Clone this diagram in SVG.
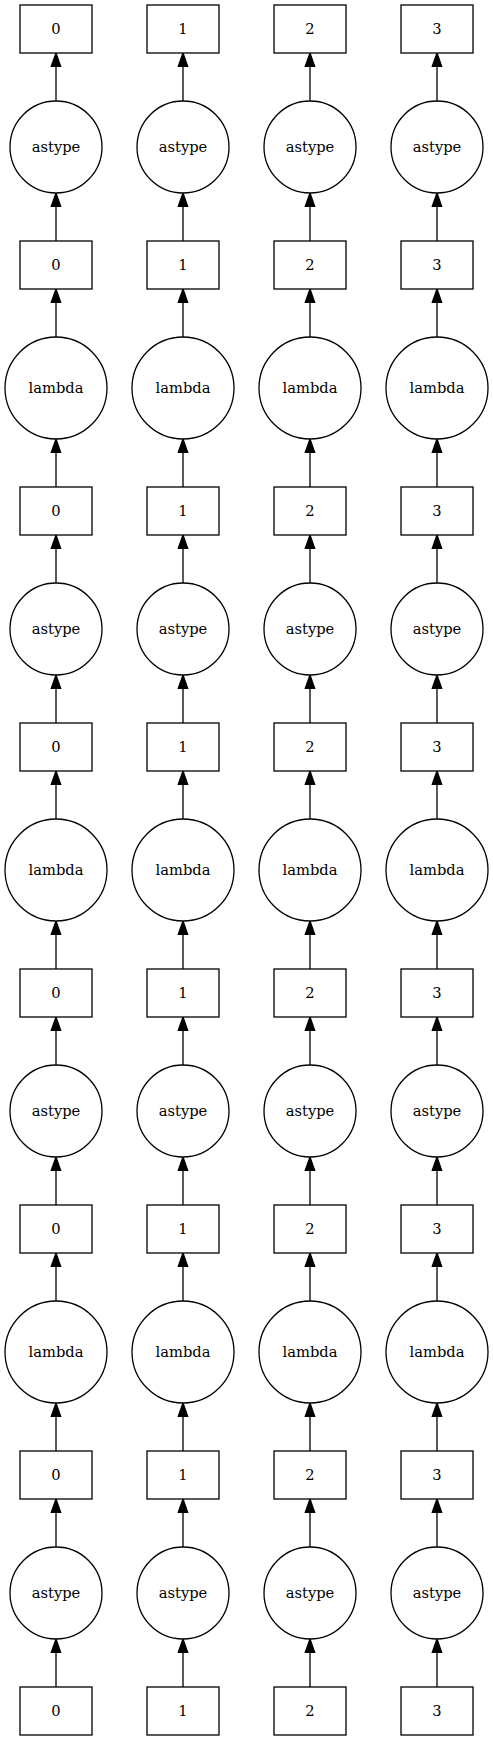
<svg xmlns="http://www.w3.org/2000/svg" width="493" height="1741" viewBox="0 0 493 1741">
<style>
.n rect,.n circle{fill:#fff;stroke:#000;stroke-width:1.3}
.n text{font-family:"DejaVu Serif","Liberation Serif",serif;font-size:14.7px;text-anchor:middle;fill:#000}
.e line{stroke:#000;stroke-width:1.3;marker-end:url(#ah)}
</style>
<defs>
<marker id="ah" markerUnits="userSpaceOnUse" markerWidth="14" markerHeight="10" refX="0" refY="4.67" orient="auto" overflow="visible">
<path d="M0,0 L13.3,4.67 L0,9.33 z" fill="#000" stroke="#000" stroke-width="1.3"/>
</marker>
</defs>
<rect width="493" height="1741" fill="#fff"/>
<g id="edges" class="e">
<line x1="56" y1="101" x2="56" y2="66.3"/><line x1="56" y1="241" x2="56" y2="206.3"/><line x1="56" y1="337" x2="56" y2="302.3"/><line x1="56" y1="487" x2="56" y2="452.3"/><line x1="56" y1="583" x2="56" y2="548.3"/><line x1="56" y1="723" x2="56" y2="688.3"/><line x1="56" y1="819" x2="56" y2="784.3"/><line x1="56" y1="969" x2="56" y2="934.3"/><line x1="56" y1="1065" x2="56" y2="1030.3"/><line x1="56" y1="1205" x2="56" y2="1170.3"/><line x1="56" y1="1301" x2="56" y2="1266.3"/><line x1="56" y1="1451" x2="56" y2="1416.3"/><line x1="56" y1="1547" x2="56" y2="1512.3"/><line x1="56" y1="1687" x2="56" y2="1652.3"/>
<line x1="183" y1="101" x2="183" y2="66.3"/><line x1="183" y1="241" x2="183" y2="206.3"/><line x1="183" y1="337" x2="183" y2="302.3"/><line x1="183" y1="487" x2="183" y2="452.3"/><line x1="183" y1="583" x2="183" y2="548.3"/><line x1="183" y1="723" x2="183" y2="688.3"/><line x1="183" y1="819" x2="183" y2="784.3"/><line x1="183" y1="969" x2="183" y2="934.3"/><line x1="183" y1="1065" x2="183" y2="1030.3"/><line x1="183" y1="1205" x2="183" y2="1170.3"/><line x1="183" y1="1301" x2="183" y2="1266.3"/><line x1="183" y1="1451" x2="183" y2="1416.3"/><line x1="183" y1="1547" x2="183" y2="1512.3"/><line x1="183" y1="1687" x2="183" y2="1652.3"/>
<line x1="310" y1="101" x2="310" y2="66.3"/><line x1="310" y1="241" x2="310" y2="206.3"/><line x1="310" y1="337" x2="310" y2="302.3"/><line x1="310" y1="487" x2="310" y2="452.3"/><line x1="310" y1="583" x2="310" y2="548.3"/><line x1="310" y1="723" x2="310" y2="688.3"/><line x1="310" y1="819" x2="310" y2="784.3"/><line x1="310" y1="969" x2="310" y2="934.3"/><line x1="310" y1="1065" x2="310" y2="1030.3"/><line x1="310" y1="1205" x2="310" y2="1170.3"/><line x1="310" y1="1301" x2="310" y2="1266.3"/><line x1="310" y1="1451" x2="310" y2="1416.3"/><line x1="310" y1="1547" x2="310" y2="1512.3"/><line x1="310" y1="1687" x2="310" y2="1652.3"/>
<line x1="437" y1="101" x2="437" y2="66.3"/><line x1="437" y1="241" x2="437" y2="206.3"/><line x1="437" y1="337" x2="437" y2="302.3"/><line x1="437" y1="487" x2="437" y2="452.3"/><line x1="437" y1="583" x2="437" y2="548.3"/><line x1="437" y1="723" x2="437" y2="688.3"/><line x1="437" y1="819" x2="437" y2="784.3"/><line x1="437" y1="969" x2="437" y2="934.3"/><line x1="437" y1="1065" x2="437" y2="1030.3"/><line x1="437" y1="1205" x2="437" y2="1170.3"/><line x1="437" y1="1301" x2="437" y2="1266.3"/><line x1="437" y1="1451" x2="437" y2="1416.3"/><line x1="437" y1="1547" x2="437" y2="1512.3"/><line x1="437" y1="1687" x2="437" y2="1652.3"/>
</g>
<g id="col0">
<g id="c0b0" class="n"><rect x="20" y="5" width="72" height="48"/><text x="56" y="34.3">0</text></g>
<g id="c0a0" class="n"><circle cx="56" cy="147" r="46"/><text x="56" y="152.3">astype</text></g>
<g id="c0b1" class="n"><rect x="20" y="241" width="72" height="48"/><text x="56" y="270.3">0</text></g>
<g id="c0l0" class="n"><circle cx="56" cy="388" r="51"/><text x="56" y="393.3">lambda</text></g>
<g id="c0b2" class="n"><rect x="20" y="487" width="72" height="48"/><text x="56" y="516.3">0</text></g>
<g id="c0a1" class="n"><circle cx="56" cy="629" r="46"/><text x="56" y="634.3">astype</text></g>
<g id="c0b3" class="n"><rect x="20" y="723" width="72" height="48"/><text x="56" y="752.3">0</text></g>
<g id="c0l1" class="n"><circle cx="56" cy="870" r="51"/><text x="56" y="875.3">lambda</text></g>
<g id="c0b4" class="n"><rect x="20" y="969" width="72" height="48"/><text x="56" y="998.3">0</text></g>
<g id="c0a2" class="n"><circle cx="56" cy="1111" r="46"/><text x="56" y="1116.3">astype</text></g>
<g id="c0b5" class="n"><rect x="20" y="1205" width="72" height="48"/><text x="56" y="1234.3">0</text></g>
<g id="c0l2" class="n"><circle cx="56" cy="1352" r="51"/><text x="56" y="1357.3">lambda</text></g>
<g id="c0b6" class="n"><rect x="20" y="1451" width="72" height="48"/><text x="56" y="1480.3">0</text></g>
<g id="c0a3" class="n"><circle cx="56" cy="1593" r="46"/><text x="56" y="1598.3">astype</text></g>
<g id="c0b7" class="n"><rect x="20" y="1687" width="72" height="48"/><text x="56" y="1716.3">0</text></g>
</g>
<g id="col1">
<g id="c1b0" class="n"><rect x="147" y="5" width="72" height="48"/><text x="183" y="34.3">1</text></g>
<g id="c1a0" class="n"><circle cx="183" cy="147" r="46"/><text x="183" y="152.3">astype</text></g>
<g id="c1b1" class="n"><rect x="147" y="241" width="72" height="48"/><text x="183" y="270.3">1</text></g>
<g id="c1l0" class="n"><circle cx="183" cy="388" r="51"/><text x="183" y="393.3">lambda</text></g>
<g id="c1b2" class="n"><rect x="147" y="487" width="72" height="48"/><text x="183" y="516.3">1</text></g>
<g id="c1a1" class="n"><circle cx="183" cy="629" r="46"/><text x="183" y="634.3">astype</text></g>
<g id="c1b3" class="n"><rect x="147" y="723" width="72" height="48"/><text x="183" y="752.3">1</text></g>
<g id="c1l1" class="n"><circle cx="183" cy="870" r="51"/><text x="183" y="875.3">lambda</text></g>
<g id="c1b4" class="n"><rect x="147" y="969" width="72" height="48"/><text x="183" y="998.3">1</text></g>
<g id="c1a2" class="n"><circle cx="183" cy="1111" r="46"/><text x="183" y="1116.3">astype</text></g>
<g id="c1b5" class="n"><rect x="147" y="1205" width="72" height="48"/><text x="183" y="1234.3">1</text></g>
<g id="c1l2" class="n"><circle cx="183" cy="1352" r="51"/><text x="183" y="1357.3">lambda</text></g>
<g id="c1b6" class="n"><rect x="147" y="1451" width="72" height="48"/><text x="183" y="1480.3">1</text></g>
<g id="c1a3" class="n"><circle cx="183" cy="1593" r="46"/><text x="183" y="1598.3">astype</text></g>
<g id="c1b7" class="n"><rect x="147" y="1687" width="72" height="48"/><text x="183" y="1716.3">1</text></g>
</g>
<g id="col2">
<g id="c2b0" class="n"><rect x="274" y="5" width="72" height="48"/><text x="310" y="34.3">2</text></g>
<g id="c2a0" class="n"><circle cx="310" cy="147" r="46"/><text x="310" y="152.3">astype</text></g>
<g id="c2b1" class="n"><rect x="274" y="241" width="72" height="48"/><text x="310" y="270.3">2</text></g>
<g id="c2l0" class="n"><circle cx="310" cy="388" r="51"/><text x="310" y="393.3">lambda</text></g>
<g id="c2b2" class="n"><rect x="274" y="487" width="72" height="48"/><text x="310" y="516.3">2</text></g>
<g id="c2a1" class="n"><circle cx="310" cy="629" r="46"/><text x="310" y="634.3">astype</text></g>
<g id="c2b3" class="n"><rect x="274" y="723" width="72" height="48"/><text x="310" y="752.3">2</text></g>
<g id="c2l1" class="n"><circle cx="310" cy="870" r="51"/><text x="310" y="875.3">lambda</text></g>
<g id="c2b4" class="n"><rect x="274" y="969" width="72" height="48"/><text x="310" y="998.3">2</text></g>
<g id="c2a2" class="n"><circle cx="310" cy="1111" r="46"/><text x="310" y="1116.3">astype</text></g>
<g id="c2b5" class="n"><rect x="274" y="1205" width="72" height="48"/><text x="310" y="1234.3">2</text></g>
<g id="c2l2" class="n"><circle cx="310" cy="1352" r="51"/><text x="310" y="1357.3">lambda</text></g>
<g id="c2b6" class="n"><rect x="274" y="1451" width="72" height="48"/><text x="310" y="1480.3">2</text></g>
<g id="c2a3" class="n"><circle cx="310" cy="1593" r="46"/><text x="310" y="1598.3">astype</text></g>
<g id="c2b7" class="n"><rect x="274" y="1687" width="72" height="48"/><text x="310" y="1716.3">2</text></g>
</g>
<g id="col3">
<g id="c3b0" class="n"><rect x="401" y="5" width="72" height="48"/><text x="437" y="34.3">3</text></g>
<g id="c3a0" class="n"><circle cx="437" cy="147" r="46"/><text x="437" y="152.3">astype</text></g>
<g id="c3b1" class="n"><rect x="401" y="241" width="72" height="48"/><text x="437" y="270.3">3</text></g>
<g id="c3l0" class="n"><circle cx="437" cy="388" r="51"/><text x="437" y="393.3">lambda</text></g>
<g id="c3b2" class="n"><rect x="401" y="487" width="72" height="48"/><text x="437" y="516.3">3</text></g>
<g id="c3a1" class="n"><circle cx="437" cy="629" r="46"/><text x="437" y="634.3">astype</text></g>
<g id="c3b3" class="n"><rect x="401" y="723" width="72" height="48"/><text x="437" y="752.3">3</text></g>
<g id="c3l1" class="n"><circle cx="437" cy="870" r="51"/><text x="437" y="875.3">lambda</text></g>
<g id="c3b4" class="n"><rect x="401" y="969" width="72" height="48"/><text x="437" y="998.3">3</text></g>
<g id="c3a2" class="n"><circle cx="437" cy="1111" r="46"/><text x="437" y="1116.3">astype</text></g>
<g id="c3b5" class="n"><rect x="401" y="1205" width="72" height="48"/><text x="437" y="1234.3">3</text></g>
<g id="c3l2" class="n"><circle cx="437" cy="1352" r="51"/><text x="437" y="1357.3">lambda</text></g>
<g id="c3b6" class="n"><rect x="401" y="1451" width="72" height="48"/><text x="437" y="1480.3">3</text></g>
<g id="c3a3" class="n"><circle cx="437" cy="1593" r="46"/><text x="437" y="1598.3">astype</text></g>
<g id="c3b7" class="n"><rect x="401" y="1687" width="72" height="48"/><text x="437" y="1716.3">3</text></g>
</g>
</svg>
